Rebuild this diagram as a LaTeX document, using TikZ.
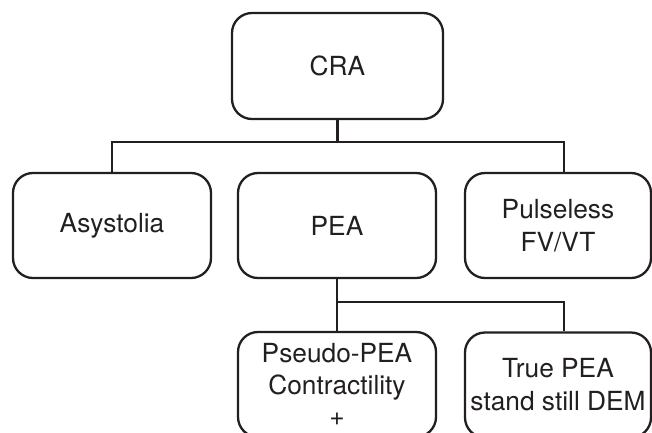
\documentclass[tikz,border=0pt]{standalone}
\usepackage{fontspec}
\setmainfont{TeX Gyre Heros}
\usepackage{tikz}
\usetikzlibrary{positioning,calc}
\definecolor{inkblack}{HTML}{231F20}

\begin{document}
\begin{tikzpicture}[x=1pt,y=-1pt,
 box/.style={rounded corners=20pt,draw=inkblack,line width=2.3pt,minimum height=105pt,align=center,inner sep=2pt,text=inkblack,font=\fontsize{26.3}{33}\selectfont},
 link/.style={draw=inkblack,line width=2.3pt}]
\clip (0,0) rectangle (652,432);
\node[box,minimum width=211pt,minimum height=106pt] (cra) at (337.5,66) {CRA};
\node[box,minimum width=198pt] (asy) at (112,225.5) {Asystolia};
\node[box,minimum width=198pt] (pea) at (337,225.5) {PEA};
\node[box,minimum width=186pt] (pvt) at (558,225.5) {Pulseless\\FV/VT};
\node[box,minimum width=198pt,font=\fontsize{26.3}{31.5}\selectfont] (pse) at (337,384.5) {Pseudo-PEA\\Contractility\\+};
\node[box,minimum width=186pt] (tru) at (558,385) {True PEA\\stand still DEM};

\coordinate (j1) at (337.5,142);
\coordinate (j2) at (337,302);
\draw[link] (cra) -- (j1);
\draw[link] (asy.north) |- (j1) -| ([xshift=6pt]pvt.north);
\draw[link] (pea) -- (pse);
\draw[link] (j2) -| ([xshift=6pt]tru.north);
\end{tikzpicture}
\end{document}
